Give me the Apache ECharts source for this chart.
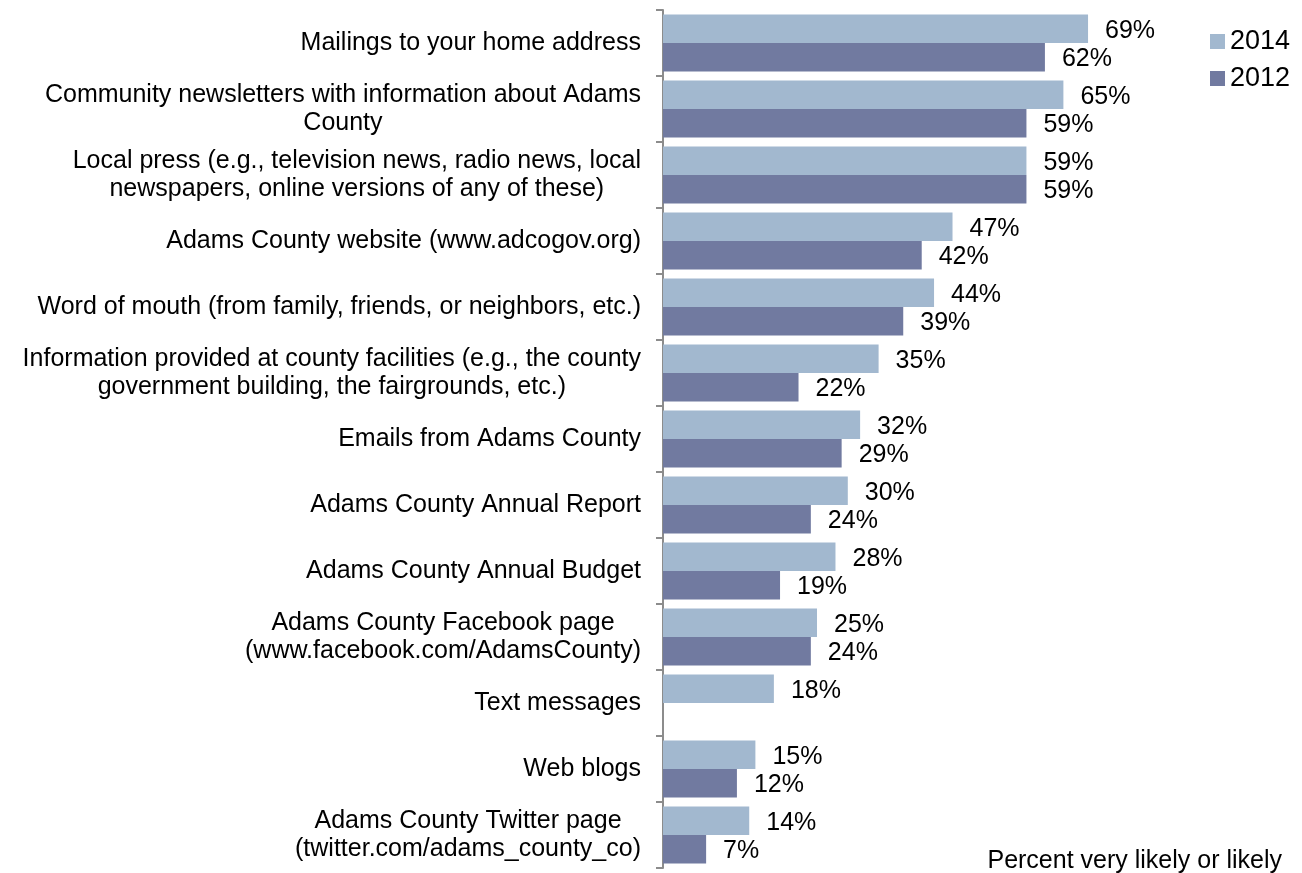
<!DOCTYPE html>
<html>
<head>
<meta charset="utf-8">
<script src="https://cdn.jsdelivr.net/npm/echarts@6/dist/echarts.min.js"></script>
<style>html,body{margin:0;padding:0;background:#fff;}#main{width:1302px;height:873px;}</style>
</head>
<body>
<div id="main"></div>
<script>
const categories = [
  "Mailings to your home address",
  "Community newsletters with information about Adams\nCounty",
  "Local press (e.g., television news, radio news, local\nnewspapers, online versions of any of these)",
  "Adams County website (www.adcogov.org)",
  "Word of mouth (from family, friends, or neighbors, etc.)",
  "Information provided at county facilities (e.g., the county\ngovernment building, the fairgrounds, etc.)",
  "Emails from Adams County",
  "Adams County Annual Report",
  "Adams County Annual Budget",
  "Adams County Facebook page\n(www.facebook.com/AdamsCounty)",
  "Text messages",
  "Web blogs",
  "Adams County Twitter page\n(twitter.com/adams_county_co)"
];
const values2014 = [69, 65, 59, 47, 44, 35, 32, 30, 28, 25, 18, 15, 14];
const values2012 = [62, 59, 59, 42, 39, 22, 29, 24, 19, 24, null, 12, 7];
const seriesNames = ["2014", "2012"];
const footnote = "Percent very likely or likely";

const FONT = "'Liberation Sans', Arial, sans-serif";
const chart = echarts.init(document.getElementById('main'), null, {renderer: 'canvas'});
const valueLabel = {
  show: true, position: 'right', distance: 17, offset: [0, 2],
  formatter: p => p.value == null ? '' : p.value + '%',
  color: '#000', fontSize: 25, fontFamily: FONT
};
chart.setOption({
  animation: false,
  backgroundColor: '#fff',
  grid: {left: 663, top: 10, bottom: 5, right: 23, containLabel: false},
  legend: {
    orient: 'vertical', left: 1205, top: 23,
    itemWidth: 15, itemHeight: 15, itemGap: 10,
    icon: 'rect',
    textStyle: {fontSize: 27, fontFamily: FONT, color: '#000', lineHeight: 27},
    data: seriesNames
  },
  xAxis: {type: 'value', min: 0, max: 100, show: false},
  yAxis: {
    type: 'category', inverse: true, data: categories,
    axisLine: {show: true, lineStyle: {color: '#8c8c8c', width: 2}},
    axisTick: {show: true, length: 7, lineStyle: {color: '#8c8c8c', width: 2}},
    axisLabel: {
      margin: 22,
      formatter: v => v.split('\n').map(s => '{a|' + s + '}').join('\n'),
      rich: {a: {align: 'center', fontSize: 25, lineHeight: 28, fontFamily: FONT, color: '#000'}}
    }
  },
  series: [
    {name: seriesNames[0], type: 'bar', data: values2014, barGap: '0%', barCategoryGap: '13.6%',
     itemStyle: {color: '#A2B8CF'}, label: valueLabel},
    {name: seriesNames[1], type: 'bar', data: values2012, barGap: '0%', barCategoryGap: '13.6%',
     itemStyle: {color: '#717AA0'}, label: valueLabel}
  ],
  graphic: [{
    type: 'text', right: 20, top: 849,
    style: {text: footnote, fontSize: 25, fontFamily: FONT, fill: '#000'}
  }]
});
</script>
</body>
</html>
